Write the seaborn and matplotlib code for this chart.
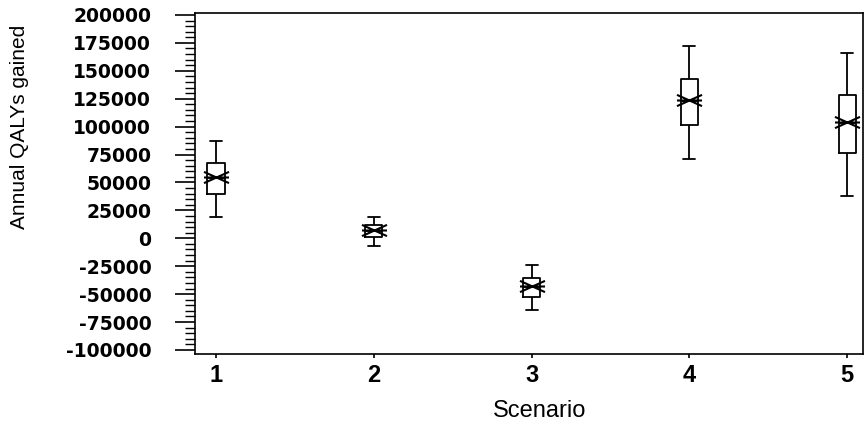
import numpy as np
import pandas as pd
import matplotlib
matplotlib.use("Agg")
import matplotlib.pyplot as plt
from matplotlib.path import Path
from matplotlib.ticker import MultipleLocator, FixedLocator
import seaborn as sns

# ---- data ----
scenarios = ["1", "2", "3", "4", "5"]
whisker_low = [19000, -6500, -64000, 71000, 37500]
q1 = [40000, 1000, -52500, 101000, 76000]
median = [54000, 6700, -43500, 123000, 103000]
q3 = [67000, 12000, -35500, 142500, 128500]
whisker_high = [87500, 18700, -24000, 172500, 165500]
means = [54500, 7000, -43000, 123500, 104000]
ytick_values = list(range(-100000, 200001, 25000))

# five-number summaries as long-form table
rows = []
for s, a, b, c, d, e in zip(scenarios, whisker_low, q1, median, q3, whisker_high):
    for v in (a, b, c, d, e):
        rows.append({"Scenario": s, "QALY": v})
df = pd.DataFrame(rows)

sns.set_theme(style="white")
plt.rcParams["font.family"] = ["Liberation Sans", "DejaVu Sans"]

fig = plt.figure(figsize=(8.64, 4.22), dpi=100)
ax = fig.add_axes([195 / 864, 1 - 354 / 422, 668 / 864, (354 - 12.7) / 422])

sns.boxplot(data=df, x="Scenario", y="QALY", order=scenarios, whis=(0, 100),
            width=0.108, fill=False, color="black", linewidth=1.3,
            capwidths=0.075, ax=ax)

# flattened asterisk marker
star = Path([(-1, 0), (1, 0), (-1, -0.45), (1, 0.45), (-1, 0.45), (1, -0.45)],
            [Path.MOVETO, Path.LINETO, Path.MOVETO, Path.LINETO, Path.MOVETO, Path.LINETO])
sns.pointplot(x=scenarios, y=means, order=scenarios, linestyle="none",
              marker=star, markersize=18, markeredgewidth=1.5,
              color="black", errorbar=None, ax=ax, zorder=5)

ax.set_xlim(-0.133, 4.10)
ax.set_ylim(-103600, 202000)

ax.yaxis.set_major_locator(FixedLocator(ytick_values))
ax.yaxis.set_minor_locator(MultipleLocator(5000))
ax.set_yticklabels([str(v) for v in ytick_values], fontweight="bold",
                   fontsize=13.5, family="DejaVu Sans")
ax.tick_params(axis="y", which="major", direction="out", length=14.5, width=1.2,
               pad=17, colors="black", left=True)
ax.tick_params(axis="y", which="minor", direction="out", length=7, width=1.0,
               colors="black", left=True)
ax.tick_params(axis="x", which="major", direction="out", length=3, width=1.2,
               pad=4, bottom=True, colors="black")
for lbl in ax.get_xticklabels():
    lbl.set_fontsize(17)
    lbl.set_fontweight("bold")

for sp in ax.spines.values():
    sp.set_visible(True)
    sp.set_color("black")
    sp.set_linewidth(1.2)

ax.set_xlabel("Scenario", fontsize=17, color="black")
ax.set_ylabel("Annual QALYs gained", fontsize=15, color="black")
ax.xaxis.set_label_coords((540 - 195) / 668, -(411 - 354) / 341.3)
ax.xaxis.label.set_va("center")
ax.yaxis.set_label_coords((20 - 195) / 668, (354 - 127) / 341.3)
ax.yaxis.label.set_va("center")

fig.savefig("out.png", dpi=100)
